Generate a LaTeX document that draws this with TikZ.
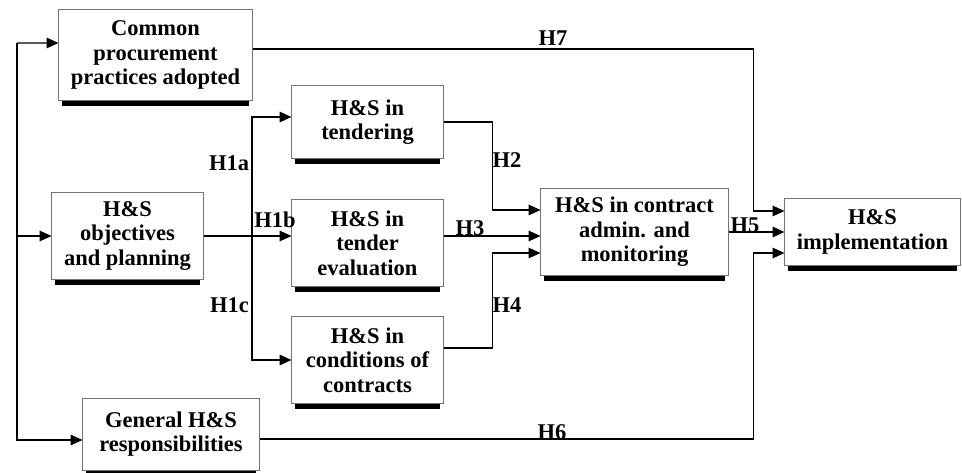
\documentclass[tikz,border=0pt]{standalone}
\usepackage{fontspec}
\setmainfont{Liberation Serif}
\usetikzlibrary{arrows.meta}

\begin{document}
\begin{tikzpicture}[x=0.025cm,y=-0.025cm,
  font=\fontsize{16}{17.5}\selectfont\bfseries,
  box/.style={draw=black!55,line width=0.7pt,fill=white,inner sep=0pt,align=center},
  arr/.style={line width=1pt,-{Triangle[length=8.5pt,width=7.5pt]}},
  lbl/.style={inner sep=0pt}]
\useasboundingbox (0,0) rectangle (962,473);
% boxes
\node[box,minimum width=4.825cm,minimum height=2.25cm](common) at (155.5,55){Common\\procurement\\practices adopted};
\node[box,minimum width=3.775cm,minimum height=2.15cm](obj) at (127.5,236){H\&S\\objectives\\and planning};
\node[box,minimum width=4.4cm,minimum height=1.8cm](gen) at (171,434){General H\&S\\responsibilities};
\node[box,minimum width=3.775cm,minimum height=1.8cm](tend) at (367.5,122){H\&S in\\tendering};
\node[box,minimum width=3.775cm,minimum height=2.15cm](eval) at (367.5,243){H\&S in\\tender\\evaluation};
\node[box,minimum width=3.775cm,minimum height=2.15cm](cond) at (367.5,360){H\&S in\\conditions of\\contracts};
\node[box,minimum width=4.675cm,minimum height=2.15cm](cont) at (634.5,232){H\&S in contract\\admin. and\\monitoring};
\node[box,minimum width=4.375cm,minimum height=1.65cm](impl) at (872.5,232){H\&S\\implementation};
%
\foreach \n in {common,obj,gen,tend,eval,cond,cont,impl}
  \fill ([xshift=0.1cm]\n.south west) rectangle ([xshift=-0.1cm,yshift=-0.125cm]\n.south east);
%
\coordinate (bus) at (17,43);
\coordinate (hub) at (252,236);
\draw[arr](bus)--([yshift=0.3cm]common.west);
\draw[arr](bus)|-([yshift=-0.15cm]gen.west);
\draw[arr](bus|-obj.west)--(obj.west);
%
\draw[arr](obj.east)--(obj.east-|eval.west);
\draw[arr](hub)|-([yshift=0.125cm]tend.west);
\draw[arr](hub)|-(cond.west);
%
\draw[arr](tend.east)--++(49,0)|-([yshift=0.55cm]cont.west);
\draw[arr](obj.east-|eval.east)--(obj.east-|cont.west);
\draw[arr]([yshift=0.3cm]cond.east)--++(49,0)|-([yshift=-0.525cm]cont.west);
\draw[arr](cont.east)--(impl.west);
\draw[arr]([yshift=0.15cm]common.east)--++(501,0)|-([yshift=0.525cm]impl.west);
\draw[arr]([yshift=-0.125cm]gen.east)--++(494,0)|-([yshift=-0.525cm]impl.west);
% labels
\node[lbl](h1a) at (229,163){H1a};
\node[lbl](h1b) at (275,220){H1b};
\node[lbl](h1c) at (229.5,305){H1c};
\node[lbl](h2) at (507,160){H2};
\node[lbl](h3) at (470,228){H3};
\node[lbl](h4) at (507,305){H4};
\node[lbl](h5) at (745,225){H5};
\node[lbl](h6) at (552,432){H6};
\node[lbl](h7) at (553,38){H7};
\end{tikzpicture}
\end{document}
